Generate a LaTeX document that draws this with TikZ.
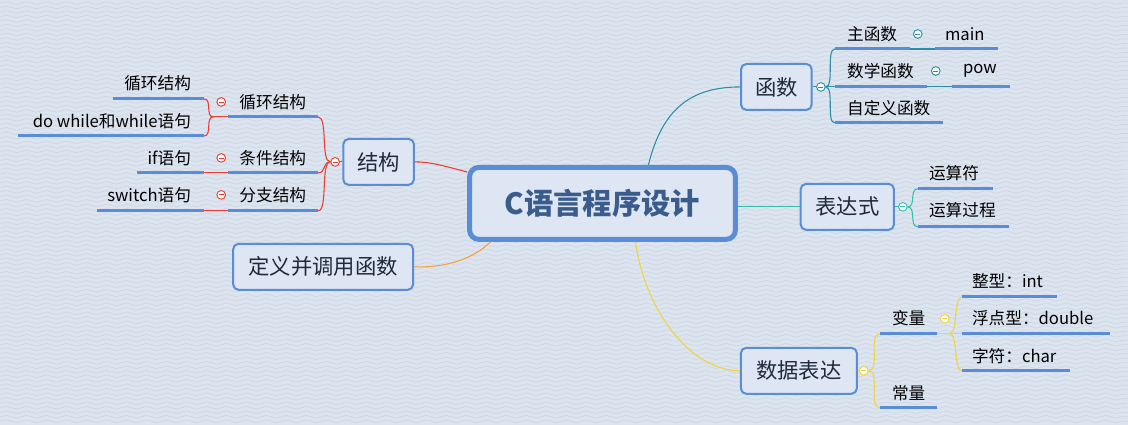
\documentclass[tikz,border=0pt]{standalone}
\usepackage{fontspec}
\setmainfont{Noto Sans CJK SC}
\usetikzlibrary{positioning, calc, decorations.pathmorphing}
\definecolor{bgblue}{HTML}{DCE4EF}
\definecolor{wavec}{HTML}{CDD6E3}
\definecolor{boxblue}{HTML}{5A8DD5}
\definecolor{boxfill}{HTML}{DDE6F2}
\definecolor{roottext}{HTML}{3A5C8C}
\definecolor{topictext}{HTML}{1E2A3C}
\definecolor{tealc}{HTML}{2A8FA5}
\definecolor{greenc}{HTML}{34BFAA}
\definecolor{yellowc}{HTML}{F3D43A}
\definecolor{redc}{HTML}{EE3B2F}
\definecolor{orangec}{HTML}{F7A233}

\begin{document}
\begin{tikzpicture}[
    x=0.75pt, y=-0.75pt,
    root/.style={rectangle, draw=boxblue, line width=3.75pt, rounded corners=7pt, fill=boxfill, minimum width=199.5pt, minimum height=54pt, inner sep=0pt, font=\fontsize{22}{26}\selectfont\bfseries, text=roottext},
    topic/.style={rectangle, draw=boxblue, line width=1.5pt, rounded corners=4pt, fill=boxfill, minimum height=34.5pt, inner sep=0pt, font=\fontsize{16}{19}\selectfont, text=topictext},
    leaf/.style={inner sep=0pt, font=\fontsize{12.5}{15}\selectfont, text=black},
    uline/.style={draw=boxblue, line width=2.25pt},
    branch/.style={line width=0.8pt},
    marker/.style={circle, draw=#1, fill=white, line width=0.7pt, minimum size=6.5pt, inner sep=0pt,
        path picture={\draw[#1, line width=0.6pt] ([xshift=-1.8pt]path picture bounding box.center) -- ([xshift=1.8pt]path picture bounding box.center);}},
    wave/.style={draw=wavec, line width=0.5pt, decorate, decoration={snake, segment length=15pt, amplitude=1pt}}
]

\fill[bgblue] (0,0) rectangle (1128,425);
\foreach \y in {3,7.5,...,425} \draw[wave] (0,\y) -- (1128,\y);

\node[root] (c) at (602.5,203.5) {C语言程序设计};
\node[topic, minimum width=53pt]  (hs)  at (776.5,87) {函数};
\node[topic, minimum width=70pt]  (bds) at (847.5,207) {表达式};
\node[topic, minimum width=87pt]  (sj)  at (799,371) {数据表达};
\node[topic, minimum width=53pt]  (jg)  at (378.5,162) {结构};
\node[topic, minimum width=135pt] (dy)  at (323,267) {定义并调用函数};

\draw[branch, tealc]   ([xshift=34.5pt]c.north) .. controls (662,110) and (690,87) .. (hs.west);
\draw[branch, greenc]  (bds.west -| c.east) -- (bds.west);
\draw[branch, yellowc] ([xshift=24.75pt]c.south) .. controls (645,310) and (690,371) .. (sj.west);
\draw[branch, redc]    ([yshift=23.6pt]c.west) .. controls (440,165) and (430,162) .. (jg.east);
\draw[branch, orangec] ([xshift=-84pt]c.south) .. controls (470,262) and (440,268) .. (dy.east);

\node[marker=tealc]   (hs-m)  at (821,87) {};
\node[marker=greenc]  (bds-m) at (903,207) {};
\node[marker=yellowc] (sj-m)  at (864,371) {};
\node[marker=redc]    (jg-m)  at (335,162) {};

\draw[branch, tealc]   (hs.east) -- (hs-m);
\draw[branch, greenc]  (bds.east) -- (bds-m);
\draw[branch, yellowc] (sj.east) -- (sj-m);
\draw[branch, redc]    (jg.west) -- (jg-m);

\coordinate (zhu-l)  at (835,49);  \coordinate (zhu-r)  at (910,49);
\coordinate (main-l) at (935,49);  \coordinate (main-r) at (998,49);
\coordinate (sx-l)   at (835,87);  \coordinate (sx-r)   at (927,87);
\coordinate (pow-l)  at (952,87);  \coordinate (pow-r)  at (1010,87);
\coordinate (zdy-l)  at (835,123); \coordinate (zdy-r)  at (943,123);

\draw[branch, tealc] (hs-m.east) .. controls +(9,0) and +(-9,0) .. (zhu-l);
\draw[branch, tealc] (hs-m.east) -- (sx-l);
\draw[branch, tealc] (hs-m.east) .. controls +(9,0) and +(-9,0) .. (zdy-l);
\draw[branch, tealc] (zhu-r) -- (main-l);
\draw[branch, tealc] (sx-r) -- (pow-l);

\coordinate (ysf-l) at (918,189); \coordinate (ysf-r) at (993,189);
\coordinate (ysgc-l) at (918,227); \coordinate (ysgc-r) at (1009,227);

\draw[branch, greenc] (bds-m.east) .. controls +(9,0) and +(-9,0) .. (ysf-l);
\draw[branch, greenc] (bds-m.east) .. controls +(9,0) and +(-9,0) .. (ysgc-l);

\coordinate (bl-l) at (880,334); \coordinate (bl-r) at (937,334);
\coordinate (cl-l) at (880,408); \coordinate (cl-r) at (937,408);
\coordinate (bl-b) at (950,334);
\coordinate (zx-l) at (962,297); \coordinate (zx-r) at (1057,297);
\coordinate (fd-l) at (962,334); \coordinate (fd-r) at (1110,334);
\coordinate (zf-l) at (962,371); \coordinate (zf-r) at (1070,371);

\draw[branch, yellowc] (sj-m.east) .. controls +(12,0) and +(-12,0) .. (bl-l);
\draw[branch, yellowc] (sj-m.east) .. controls +(12,0) and +(-12,0) .. (cl-l);
\draw[branch, yellowc] (bl-r) -- (fd-l);
\draw[branch, yellowc] (bl-b) .. controls +(8,0) and +(-8,0) .. (zx-l);
\draw[branch, yellowc] (bl-b) .. controls +(8,0) and +(-8,0) .. (zf-l);

\coordinate (xh-l) at (228,117); \coordinate (xh-r) at (318,117);
\coordinate (tj-l) at (228,173); \coordinate (tj-r) at (318,173);
\coordinate (fz-l) at (228,211); \coordinate (fz-r) at (318,211);
\coordinate (xh-b) at (213,117);
\coordinate (xh2-l) at (113,99);  \coordinate (xh2-r) at (204,99);
\coordinate (dw-l)  at (18,136);  \coordinate (dw-r)  at (204,136);
\coordinate (if-l)  at (137,173); \coordinate (if-r)  at (204,173);
\coordinate (sw-l)  at (97,211);  \coordinate (sw-r)  at (204,211);

\draw[branch, redc] (jg-m.west) .. controls +(-10,0) and +(10,0) .. (xh-r);
\draw[branch, redc] (jg-m.west) .. controls +(-8,0) and +(8,0) .. (tj-r);
\draw[branch, redc] (jg-m.west) .. controls +(-10,0) and +(10,0) .. (fz-r);
\draw[branch, redc] (xh-l) -- (xh-b);
\draw[branch, redc] (xh-b) .. controls +(-8,0) and +(8,0) .. (xh2-r);
\draw[branch, redc] (xh-b) .. controls +(-8,0) and +(8,0) .. (dw-r);
\draw[branch, redc] (tj-l) -- (if-r);
\draw[branch, redc] (fz-l) -- (sw-r);

\draw[uline] (zhu-l) -- (zhu-r);
\draw[uline] (main-l) -- (main-r);
\draw[uline] (sx-l) -- (sx-r);
\draw[uline] (pow-l) -- (pow-r);
\draw[uline] (zdy-l) -- (zdy-r);
\draw[uline] (ysf-l) -- (ysf-r);
\draw[uline] (ysgc-l) -- (ysgc-r);
\draw[uline] (bl-l) -- (bl-r);
\draw[uline] (cl-l) -- (cl-r);
\draw[uline] (zx-l) -- (zx-r);
\draw[uline] (fd-l) -- (fd-r);
\draw[uline] (zf-l) -- (zf-r);
\draw[uline] (xh-l) -- (xh-r);
\draw[uline] (tj-l) -- (tj-r);
\draw[uline] (fz-l) -- (fz-r);
\draw[uline] (xh2-l) -- (xh2-r);
\draw[uline] (dw-l) -- (dw-r);
\draw[uline] (if-l) -- (if-r);
\draw[uline] (sw-l) -- (sw-r);

\node[marker=tealc]   (zhu-m) at (918,34) {};
\node[marker=tealc]   (sx-m)  at (936,71) {};
\node[marker=yellowc] (bl-m)  at (945,319) {};
\node[marker=redc]    (xh-m)  at (221,102) {};
\node[marker=redc]    (tj-m)  at (221,158) {};
\node[marker=redc]    (fz-m)  at (221,195) {};

\node[leaf, anchor=west] (zhu)  at (847,34)  {主函数};
\node[leaf, anchor=west] (main) at (945,34)  {main};
\node[leaf, anchor=west] (sx)   at (847,71)  {数学函数};
\node[leaf, anchor=west] (pow)  at (963,71)  {pow};
\node[leaf, anchor=west] (zdy)  at (847,108) {自定义函数};
\node[leaf, anchor=west] (ysf)  at (929,173) {运算符};
\node[leaf, anchor=west] (ysgc) at (929,210) {运算过程};
\node[leaf, anchor=west] (bl)   at (892,318) {变量};
\node[leaf, anchor=west] (cl)   at (892,393) {常量};
\node[leaf, anchor=west] (zx)   at (972,281) {整型：int};
\node[leaf, anchor=west] (fd)   at (972,318) {浮点型：double};
\node[leaf, anchor=west] (zf)   at (972,356) {字符：char};
\node[leaf, anchor=west] (xh)   at (239,102) {循环结构};
\node[leaf, anchor=west] (tj)   at (239,158) {条件结构};
\node[leaf, anchor=west] (fz)   at (239,195) {分支结构};
\node[leaf, anchor=east] (xh2)  at (191,83)  {循环结构};
\node[leaf, anchor=east] (dw)   at (191,121) {do while和while语句};
\node[leaf, anchor=east] (if)   at (191,158) {if语句};
\node[leaf, anchor=east] (sw)   at (191,195) {switch语句};

\end{tikzpicture}
\end{document}
